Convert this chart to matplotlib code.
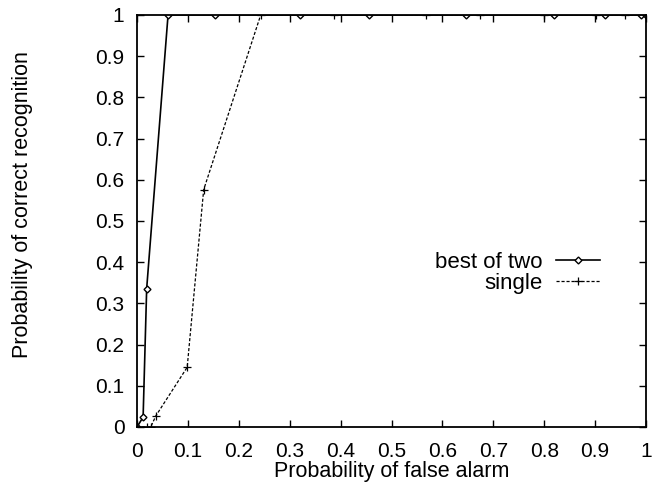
import matplotlib
matplotlib.use('Agg')
import matplotlib.pyplot as plt

# best of two
bx = [0.0, 0.012, 0.019, 0.061, 0.153, 0.320, 0.456, 0.646, 0.820, 0.919, 0.99, 1.0]
by = [0.0, 0.024, 0.336, 1.0, 1.0, 1.0, 1.0, 1.0, 1.0, 1.0, 1.0, 1.0]

# single
sx = [0.0, 0.019, 0.027, 0.037, 0.0986, 0.131, 0.243, 0.388, 0.568, 0.674, 0.800, 0.902, 0.959, 1.0]
sy = [0.0, 0.0, 0.0, 0.027, 0.145, 0.576, 1.0, 1.0, 1.0, 1.0, 1.0, 1.0, 1.0, 1.0]

ticks = [0, 0.1, 0.2, 0.3, 0.4, 0.5, 0.6, 0.7, 0.8, 0.9, 1]
tick_labels = ['0', '0.1', '0.2', '0.3', '0.4', '0.5', '0.6', '0.7', '0.8', '0.9', '1']

plt.rcParams['font.family'] = ['Liberation Sans', 'DejaVu Sans']

fig = plt.figure(figsize=(6.55, 4.87), dpi=100)
ax = fig.add_axes([137 / 655, 1 - 427 / 487, 509 / 655, 412 / 487])

ax.plot(bx, by, '-', color='black', lw=1.2, marker='D', ms=3.5,
        mfc='white', mec='black', mew=1.0, label='best of two')
ax.plot(sx, sy, '--', color='black', lw=0.9, dashes=(2.5, 1.5), marker='+',
        ms=6, mew=0.9, label='single')

ax.set_xlim(0, 1)
ax.set_ylim(0, 1)
ax.set_xticks(ticks)
ax.set_xticklabels(tick_labels)
ax.set_yticks(ticks)
ax.set_yticklabels(tick_labels)
ax.tick_params(direction='in', top=True, right=True, length=5, width=1,
               labelsize=15)
ax.tick_params(axis='x', pad=11)
ax.tick_params(axis='y', pad=9)
for s in ax.spines.values():
    s.set_linewidth(1.3)

ax.set_xlabel('Probability of false alarm', fontsize=15.5, labelpad=0)
ax.set_ylabel('Probability of correct recognition', fontsize=15.5)
ax.yaxis.set_label_coords(-0.205, 0.54)

leg = ax.legend(loc='center right', bbox_to_anchor=(600 / 655, 1 - 272.5 / 487),
                bbox_transform=fig.transFigure, frameon=False,
                markerfirst=False, fontsize=16, handlelength=2.0,
                handletextpad=0.6, labelspacing=0.0, borderpad=0,
                borderaxespad=0)
for t in leg.get_texts():
    t.set_ha('right')

fig.savefig('out.png', dpi=100)
